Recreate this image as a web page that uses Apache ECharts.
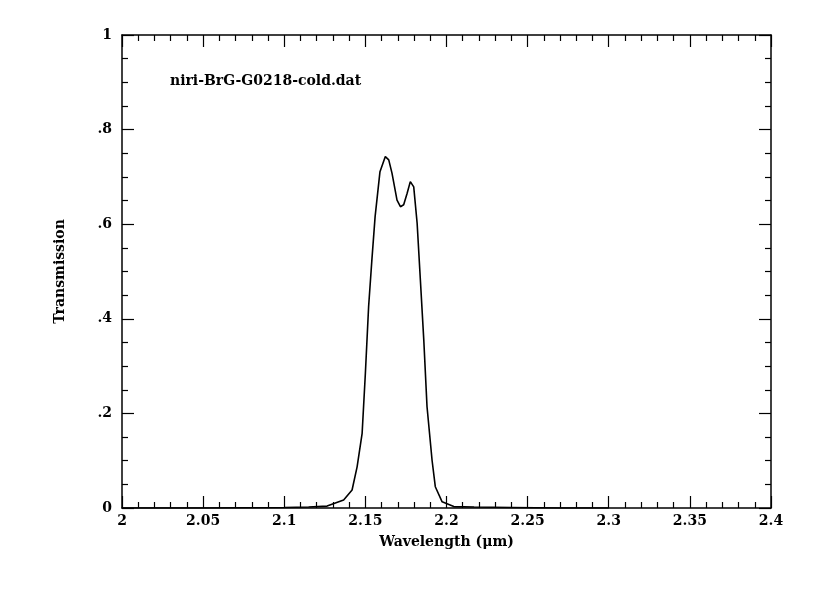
<!DOCTYPE html>
<html><head><meta charset="utf-8">
<script src="https://cdn.jsdelivr.net/npm/echarts@6/dist/echarts.min.js"></script>
<style>html,body{margin:0;background:#fff}#c{width:819px;height:607px}</style>
</head><body><div id="c"></div>
<script>
const wavelength = [2.0,2.05,2.1,2.115,2.1264,2.1366,2.1418,2.1449,2.148,2.15,2.152,2.154,2.156,2.159,2.1623,2.1644,2.1664,2.1695,2.1716,2.1736,2.1757,2.1777,2.1798,2.1819,2.1839,2.186,2.188,2.1911,2.1931,2.1973,2.2045,2.217,2.24,2.27,2.3];
const transmission = [0.0,0.0,0.001,0.002,0.004,0.017,0.038,0.087,0.158,0.285,0.426,0.524,0.616,0.711,0.743,0.736,0.708,0.651,0.637,0.641,0.665,0.690,0.679,0.602,0.482,0.355,0.214,0.101,0.045,0.013,0.003,0.002,0.001,0.0,0.0];
const yTickLabels = {0:'0',0.2:'.2',0.4:'.4',0.6:'.6',0.8:'.8',1:'1'};
const font = {fontFamily:'DejaVu Serif', fontWeight:'bold', color:'#000', fontSize:14};
const line = {onZero:false, lineStyle:{color:'#000', width:1.5}};
const tick = {inside:true, length:12, lineStyle:{color:'#000', width:1.2}};
const minor = {show:true, length:6, lineStyle:{color:'#000', width:1.2}};
const chart = echarts.init(document.getElementById('c'));
const xBase = {type:'value', min:2.0, max:2.4, interval:0.05, axisLine:line, axisTick:tick, minorTick:Object.assign({splitNumber:5},minor), splitLine:{show:false}};
const yBase = {type:'value', min:0, max:1, interval:0.2, axisLine:line, axisTick:tick, minorTick:Object.assign({splitNumber:4},minor), splitLine:{show:false}};
chart.setOption({
  animation:false,
  grid:{left:122, right:48, top:35, bottom:99},
  xAxis:[
    Object.assign({}, xBase, {position:'bottom', name:'Wavelength (\u03bcm)', nameLocation:'middle', nameGap:27, nameTextStyle:font,
      axisLabel:Object.assign({margin:6, formatter:v=>String(+v.toFixed(2))}, font)}),
    Object.assign({}, xBase, {position:'top', axisLabel:{show:false}})
  ],
  yAxis:[
    Object.assign({}, yBase, {position:'left', name:'Transmission', nameLocation:'middle', nameGap:55, nameTextStyle:font,
      axisLabel:Object.assign({margin:10, formatter:v=>yTickLabels[+v.toFixed(1)] ?? ''}, font)}),
    Object.assign({}, yBase, {position:'right', axisLabel:{show:false}})
  ],
  graphic:[{type:'text', left:170, top:74, style:{text:'niri-BrG-G0218-cold.dat', font:'bold 14px "DejaVu Serif"', fill:'#000'}}],
  series:[{type:'line', data:wavelength.map((w,i)=>[w,transmission[i]]), showSymbol:false, smooth:false, lineStyle:{color:'#000', width:1.6}}]
});
</script></body></html>
